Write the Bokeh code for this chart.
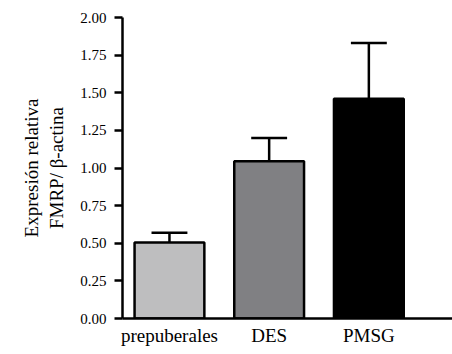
from bokeh.plotting import figure
from bokeh.models import Range1d, FixedTicker, NumeralTickFormatter, ColumnDataSource
from bokeh.embed import file_html
from bokeh.resources import INLINE

categories = ["prepuberales", "DES", "PMSG"]
values = [0.505, 1.045, 1.46]
errors = [0.065, 0.155, 0.37]
colors = ["#bebebf", "#808083", "#000000"]
y_ticks = [0, 0.25, 0.5, 0.75, 1.0, 1.25, 1.5, 1.75, 2.0]

xs = [i + 1 for i in range(len(categories))]
bar_w = 0.70
cap_w = 0.36
src = ColumnDataSource(dict(
    x=xs, top=values, color=colors,
    err_top=[v + e for v, e in zip(values, errors)],
    cap_l=[x - cap_w / 2 for x in xs],
    cap_r=[x + cap_w / 2 for x in xs],
))

p = figure(width=452, height=354, output_backend="svg", toolbar_location=None,
           x_range=Range1d(0.529, 3.839), y_range=Range1d(0, 2.0),
           min_border_left=122, min_border_right=0, min_border_top=17, min_border_bottom=36)
p.outline_line_color = None
p.xgrid.visible = False
p.ygrid.visible = False

p.segment(x0="x", y0="top", x1="x", y1="err_top", source=src, line_color="black", line_width=2.5)
p.segment(x0="cap_l", y0="err_top", x1="cap_r", y1="err_top", source=src, line_color="black", line_width=2.5)
p.vbar(x="x", top="top", bottom=0, width=bar_w, source=src, fill_color="color",
       line_color="black", line_width=2.5)

font = "'Liberation Serif', 'Times New Roman', serif"
p.yaxis.ticker = FixedTicker(ticks=y_ticks)
p.yaxis.formatter = NumeralTickFormatter(format="0.00")
p.yaxis.minor_tick_line_color = None
p.yaxis.major_tick_in = 0
p.yaxis.major_tick_out = 8
p.yaxis.major_tick_line_width = 2.5
p.yaxis.major_tick_line_color = "black"
p.yaxis.axis_line_width = 2.5
p.yaxis.axis_line_color = "black"
p.yaxis.major_label_standoff = 8
p.yaxis.major_label_text_font = font
p.yaxis.major_label_text_font_size = "15px"
p.yaxis.major_label_text_color = "black"
p.yaxis.axis_label = "Expresión relativa\nFMRP/ β-actina"
p.yaxis.axis_label_text_font = font
p.yaxis.axis_label_text_font_style = "normal"
p.yaxis.axis_label_text_font_size = "19px"
p.yaxis.axis_label_standoff = 10
p.yaxis.axis_label_text_color = "black"

p.xaxis.ticker = FixedTicker(ticks=xs)
p.xaxis.major_label_overrides = {x: c for x, c in zip(xs, categories)}
p.xaxis.major_tick_line_color = None
p.xaxis.major_tick_in = 0
p.xaxis.major_tick_out = 0
p.xaxis.minor_tick_line_color = None
p.xaxis.axis_line_width = 2.5
p.xaxis.axis_line_color = "black"
p.xaxis.major_label_standoff = 6
p.xaxis.major_label_text_font = font
p.xaxis.major_label_text_font_size = "19px"
p.xaxis.major_label_text_color = "black"

open("out.html", "w").write(file_html(p, INLINE))
